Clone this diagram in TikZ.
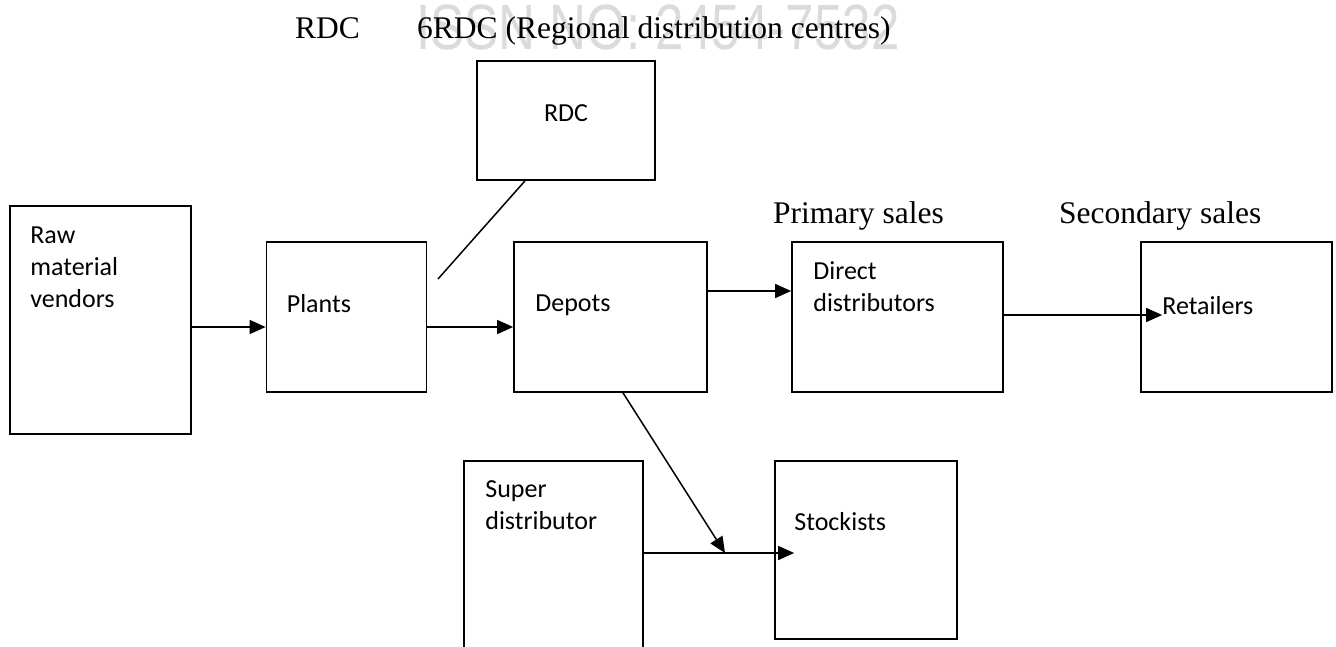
\documentclass[tikz,border=0pt]{standalone}
\usepackage{fontspec}
\setmainfont{Liberation Serif}
\newfontfamily\calibri{Carlito}
\newfontfamily\wmfont[FakeStretch=0.8]{Liberation Sans}
\usetikzlibrary{arrows.meta,positioning}
\tikzset{
  box/.style={rectangle, draw=black, line width=1.7pt, inner sep=0pt},
  txt/.style={font=\calibri\fontsize{26}{32}\selectfont, inner sep=0pt, align=left},
  hdr/.style={font=\fontsize{31.5}{38}\selectfont, inner sep=0pt, anchor=base west},
  ar/.style={-{Triangle[length=16pt, width=14pt]}, line width=1.5pt},
  ln/.style={line width=1.5pt},
}

\begin{document}
\begin{tikzpicture}[x=1pt, y=-1pt]
\clip (0,0) rectangle (1336,646);
\fill[white] (0,0) rectangle (1336,646);

% faint stamp behind the heading
\node[font=\wmfont\fontsize{64}{64}\selectfont, text=black!14, inner sep=0pt] (stamp) at (658,27) {ISSN NO: 2454-7532};

% heading line and sales labels
\node[hdr] (hrdc) at (295,38) {RDC};
\node[hdr] (hrdclong) at (417,38) {6RDC (Regional distribution centres)};
\node[hdr] (prim) at (773,223) {Primary sales};
\node[hdr] (sec) at (1059,223) {Secondary sales};

% boxes
\node[box, minimum width=181pt, minimum height=228pt] (raw) at (100.5,320) {};
\node[box, minimum width=160pt, minimum height=150pt] (plants) at (346.5,317) {};
\node[box, minimum width=193pt, minimum height=150pt] (depots) at (610.5,317) {};
\node[box, minimum width=211pt, minimum height=150pt] (direct) at (897.5,317) {};
\node[box, minimum width=191pt, minimum height=150pt] (retail) at (1236.5,317) {};
\node[box, minimum width=178pt, minimum height=119pt] (rdc) at (566,120.5) {};
\node[box, minimum width=179pt, minimum height=240pt] (super) at (553.5,581) {};
\node[box, minimum width=182pt, minimum height=178pt] (stock) at (866,550) {};

% box texts
\node[txt, below right=21pt and 21pt of raw.north west] (rawtxt) {Raw\\material\\vendors};
\node[txt, below right=53pt and 21pt of plants.north west] (plantstxt) {Plants};
\node[txt, below right=53pt and 22pt of depots.north west] (depotstxt) {Depots};
\node[txt, below right=20pt and 22pt of direct.north west] (directtxt) {Direct\\distributors};
\node[txt, below right=55pt and 22pt of retail.north west] (rettxt) {Retailers};
\node[txt, below=44pt of rdc.north] (rdctxt) {RDC};
\node[txt, below right=20pt and 22pt of super.north west] (supertxt) {Super\\distributor};
\node[txt, below right=52pt and 20pt of stock.north west] (stocktxt) {Stockists};

% flows
\draw[ar] ([yshift=-7pt]raw.east) -- ([yshift=-7pt]raw.east -| plants.west);
\draw[ar] ([yshift=-10pt]plants.east) -- ([yshift=-10pt]plants.east -| depots.west);
\draw[ar] ([yshift=26pt]depots.east) -- ([yshift=26pt]depots.east -| direct.west);
\draw[ar] ([yshift=2pt]direct.east) -- ([yshift=2pt]direct.east -| rettxt.west);

\coordinate (rdctail) at (438,279);
\draw[ln] ([xshift=-41pt]rdc.south) -- (rdctail);

\coordinate (merge) at (725,553);
\draw[ar] ([xshift=12.5pt]depots.south) -- (merge);
\draw[ar] (super.east |- merge) -- (merge -| stocktxt.west);
\end{tikzpicture}
\end{document}
